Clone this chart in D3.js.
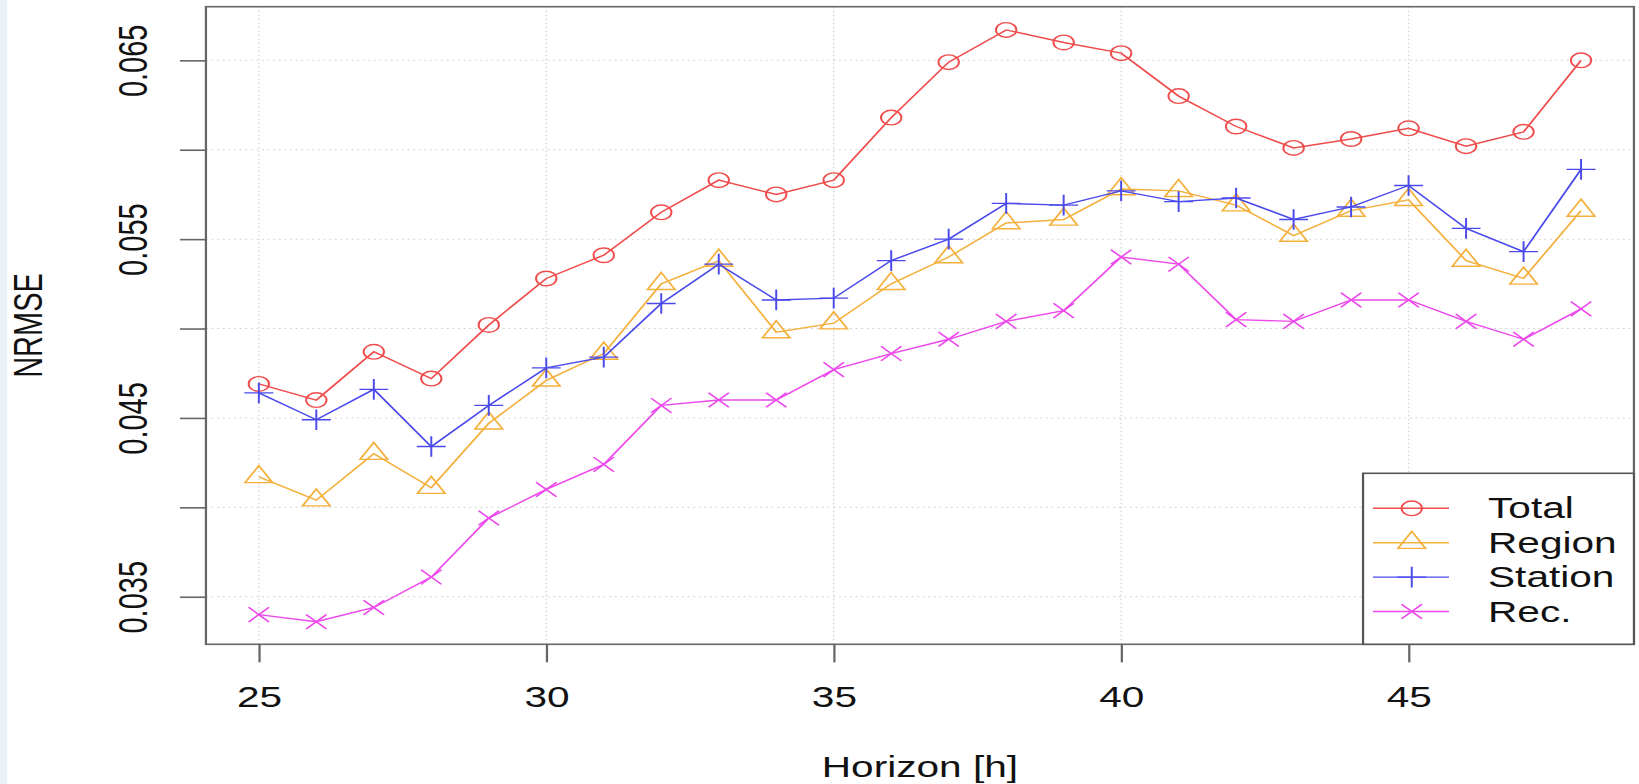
<!DOCTYPE html>
<meta charset="utf-8">
<head>
<style>
body { margin: 0; background: #fff; }
svg { display: block; }
.lbl {
  font-family: "Liberation Sans", Arial, Helvetica, sans-serif;
  font-size: 29px;
  fill: #111;
}
.grid line {
  stroke: #d6d6d6;
  stroke-width: 1;
  stroke-dasharray: 1.5,2.5;
}
.axis line { stroke: #666; stroke-width: 1.6; }
.axis path { display: none; }
</style>
<script src="https://d3js.org/d3.v7.min.js"></script>
</head>
<body>
<svg width="1639" height="784"></svg>
<script>

// values
var hours   = [25, 26, 27, 28, 29, 30, 31, 32, 33, 34, 35, 36, 37, 38, 39, 40, 41, 42, 43, 44, 45, 46, 47, 48];
var total   = [0.0469, 0.0460, 0.0487, 0.0472, 0.0502, 0.0528, 0.0541, 0.0565, 0.0583, 0.0575, 0.0583, 0.0618,
               0.0649, 0.0667, 0.0660, 0.0654, 0.0630, 0.0613, 0.0601, 0.0606, 0.0612, 0.0602, 0.0610, 0.0650];
var region  = [0.0417, 0.0404, 0.0430, 0.0411, 0.0447, 0.0471, 0.0486, 0.0525, 0.0538, 0.0498, 0.0503, 0.0525,
               0.0540, 0.0559, 0.0561, 0.0578, 0.0577, 0.0569, 0.0552, 0.0566, 0.0572, 0.0538, 0.0528, 0.0566];
var station = [0.0464, 0.0449, 0.0466, 0.0434, 0.0457, 0.0478, 0.0484, 0.0514, 0.0536, 0.0516, 0.0517, 0.0538,
               0.0550, 0.0570, 0.0569, 0.0577, 0.0571, 0.0573, 0.0561, 0.0568, 0.0580, 0.0556, 0.0543, 0.0589];
var rec     = [0.0340, 0.0336, 0.0344, 0.0361, 0.0394, 0.0410, 0.0424, 0.0457, 0.0460, 0.0460, 0.0477, 0.0486,
               0.0494, 0.0504, 0.0510, 0.0540, 0.0536, 0.0505, 0.0504, 0.0516, 0.0516, 0.0504, 0.0494, 0.0511];

var xTicks = [25, 30, 35, 40, 45];
var yTicks = [0.035, 0.040, 0.045, 0.050, 0.055, 0.060, 0.065];
var yLabels = ["0.035", "", "0.045", "", "0.055", "", "0.065"];

var seriesNames  = ["Total", "Region", "Station", "Rec."];
var seriesData   = [total, region, station, rec];
var seriesColors = ["#f04c4c", "#f4b03c", "#4a4aec", "#ec48ec"];
var seriesShapes = ["circle", "triangle", "plus", "cross"];

var svg = d3.select("svg");

// the original picture is stretched sideways, so draw in a narrower frame and widen it
var stretch = 1.4;

svg.append("rect")
    .attr("width", 1639).attr("height", 784).attr("fill", "#fff");
svg.append("rect")
    .attr("width", 7).attr("height", 784).attr("fill", "#e8f0f8");

var g = svg.append("g").attr("transform", "scale(" + stretch + ",1)");

var plotLeft = 147.1, plotRight = 1167.1, plotTop = 6.7, plotBottom = 644.3;

var x = d3.scaleLinear().domain([24.08, 48.92]).range([plotLeft, plotRight]);
var y = d3.scaleLinear().domain([0.03234, 0.0680]).range([plotBottom, plotTop]);

// grid
var grid = g.append("g").attr("class", "grid");
grid.selectAll("line.v")
  .data(xTicks)
  .enter().append("line")
    .attr("class", "v")
    .attr("x1", d => x(d)).attr("x2", d => x(d))
    .attr("y1", plotTop).attr("y2", plotBottom);
grid.selectAll("line.h")
  .data(yTicks)
  .enter().append("line")
    .attr("class", "h")
    .attr("x1", plotLeft).attr("x2", plotRight)
    .attr("y1", d => y(d)).attr("y2", d => y(d));

// axes
var yAxis = d3.axisLeft(y)
    .tickValues(yTicks)
    .tickSize(18.6)
    .tickFormat((d, i) => yLabels[i]);

var ya = g.append("g")
    .attr("class", "axis")
    .attr("transform", "translate(" + plotLeft + ",0)")
    .call(yAxis);
ya.selectAll("text")
    .attr("class", "lbl")
    .attr("x", 0).attr("dy", 0)
    .attr("text-anchor", "middle")
    .attr("fill", "#111")
    .attr("transform", "translate(-42.1,0) rotate(-90)");

var xAxis = d3.axisBottom(x)
    .tickValues(xTicks)
    .tickSize(18)
    .tickPadding(24);

var xa = g.append("g")
    .attr("class", "axis")
    .attr("transform", "translate(0," + plotBottom + ")")
    .call(xAxis);
xa.selectAll("text")
    .attr("class", "lbl")
    .attr("fill", "#111");

// axis titles
g.append("text")
    .attr("class", "lbl")
    .attr("text-anchor", "middle")
    .attr("transform", "translate(30," + ((plotTop + plotBottom) / 2) + ") rotate(-90)")
    .text("NRMSE");

g.append("text")
    .attr("class", "lbl")
    .attr("text-anchor", "middle")
    .attr("x", (plotLeft + plotRight) / 2)
    .attr("y", 777)
    .text("Horizon [h]");

// symbols like R's pch 1, 2, 3, 4
var rad = 7.3;
function symbolPath(shape) {
  if (shape == "triangle") {
    var r = 1.555 * rad;
    return "M0," + (-r) + "L" + (r * 0.866) + "," + (r / 2) + "L" + (-r * 0.866) + "," + (r / 2) + "Z";
  } else if (shape == "plus") {
    var h = 1.414 * rad;
    return "M" + (-h) + ",0H" + h + "M0," + (-h) + "V" + h;
  } else if (shape == "cross") {
    return "M" + (-rad) + "," + (-rad) + "L" + rad + "," + rad + "M" + (-rad) + "," + rad + "L" + rad + "," + (-rad);
  }
  return null;
}

function drawSymbol(sel, shape, color) {
  if (shape == "circle") {
    sel.append("circle")
      .attr("r", rad)
      .attr("fill", "none")
      .attr("stroke", color)
      .attr("stroke-width", 1.4);
  } else {
    sel.append("path")
      .attr("d", symbolPath(shape))
      .attr("fill", "none")
      .attr("stroke", color)
      .attr("stroke-width", 1.4);
  }
}

var line = d3.line()
    .x((d, i) => x(hours[i]))
    .y(d => y(d));

seriesData.forEach(function(vals, k) {
  g.append("path")
      .datum(vals)
      .attr("fill", "none")
      .attr("stroke", seriesColors[k])
      .attr("stroke-width", 1.4)
      .attr("d", line);

  g.append("g").selectAll("g")
    .data(vals)
    .enter().append("g")
      .attr("transform", (d, i) => "translate(" + x(hours[i]) + "," + y(d) + ")")
      .each(function() { drawSymbol(d3.select(this), seriesShapes[k], seriesColors[k]); });
});

// plot box
g.append("rect")
    .attr("x", plotLeft).attr("y", plotTop)
    .attr("width", plotRight - plotLeft).attr("height", plotBottom - plotTop)
    .attr("fill", "none")
    .attr("stroke", "#666")
    .attr("stroke-width", 1.6);

// legend
var lgLeft = 973.6, lgTop = 473.3, lgRowY = 508.3, lgRowStep = 34.4;
var legend = g.append("g");
legend.append("rect")
    .attr("x", lgLeft).attr("y", lgTop)
    .attr("width", plotRight - lgLeft).attr("height", plotBottom - lgTop)
    .attr("fill", "#fff")
    .attr("stroke", "#555")
    .attr("stroke-width", 1.6);

var rows = legend.selectAll("g.row")
  .data(seriesNames)
  .enter().append("g")
    .attr("class", "row")
    .attr("transform", (d, i) => "translate(0," + (lgRowY + i * lgRowStep) + ")");

rows.append("line")
    .attr("x1", 980.7).attr("x2", 1035)
    .attr("stroke", (d, i) => seriesColors[i])
    .attr("stroke-width", 1.4);

rows.each(function(d, i) {
  var s = d3.select(this).append("g").attr("transform", "translate(1008.4,0)");
  drawSymbol(s, seriesShapes[i], seriesColors[i]);
});

rows.append("text")
    .attr("class", "lbl")
    .attr("x", 1062.9)
    .attr("y", 10)
    .text(d => d);

</script>
</body>
